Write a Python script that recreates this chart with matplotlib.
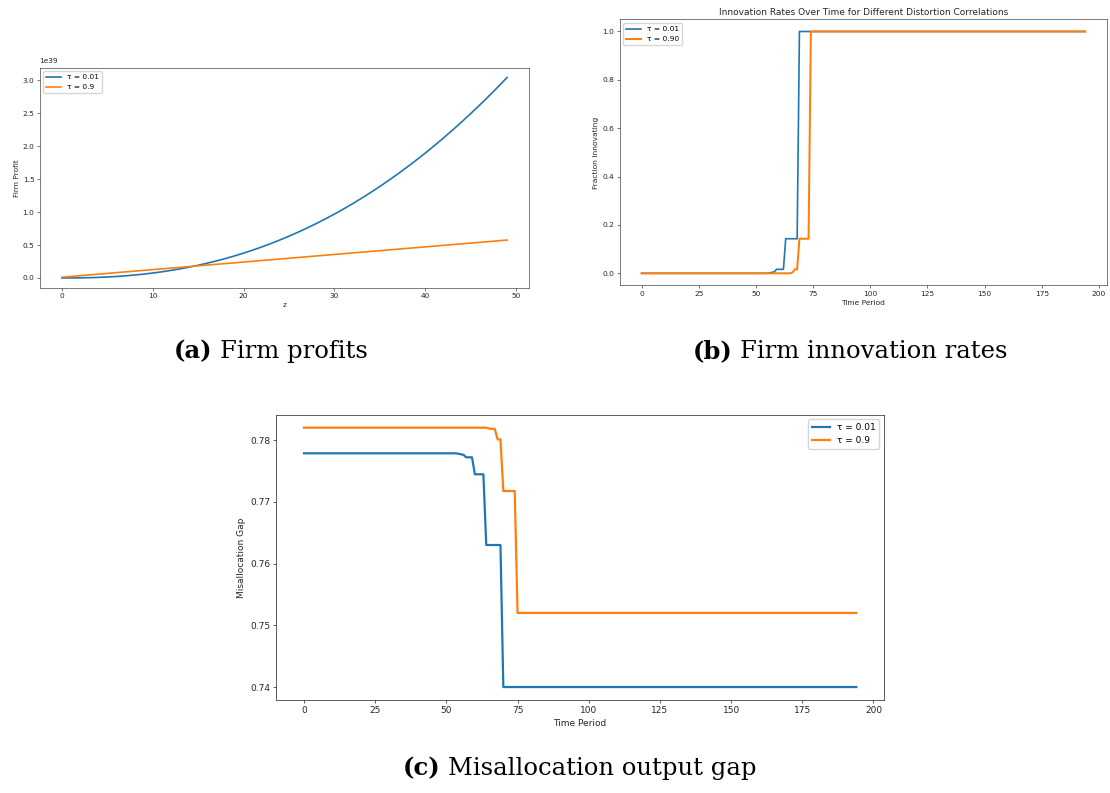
import matplotlib
matplotlib.use("Agg")
import matplotlib.pyplot as plt

W, H = 1110, 793

# ---------------- (a) firm profit against productivity z ----------------
z = list(range(50))
PROFIT_UNIT = 1e39
profit_tau_low = [0.0000, 0.0003, 0.0018, 0.0045, 0.0089, 0.0149, 0.0228, 0.0326, 0.0446, 0.0586,
                  0.0749, 0.0935, 0.1146, 0.1380, 0.1641, 0.1928, 0.2241, 0.2581, 0.2948, 0.3344,
                  0.3770, 0.4222, 0.4705, 0.5219, 0.5764, 0.6338, 0.6945, 0.7582, 0.8253, 0.8957,
                  0.9690, 1.0462, 1.1264, 1.2103, 1.2975, 1.3880, 1.4822, 1.5799, 1.6813, 1.7864,
                  1.8940, 2.0070, 2.1230, 2.2426, 2.3660, 2.4932, 2.6236, 2.7584, 2.8975, 3.0400]
profit_tau_high = [0.012, 0.023, 0.035, 0.046, 0.058, 0.069, 0.081, 0.092, 0.104, 0.115,
                   0.127, 0.138, 0.150, 0.161, 0.173, 0.184, 0.196, 0.207, 0.219, 0.230,
                   0.242, 0.253, 0.265, 0.276, 0.288, 0.299, 0.311, 0.322, 0.334, 0.345,
                   0.357, 0.368, 0.380, 0.391, 0.403, 0.414, 0.426, 0.437, 0.449, 0.460,
                   0.472, 0.483, 0.495, 0.506, 0.518, 0.529, 0.541, 0.552, 0.564, 0.575]
labels_a = ["τ = 0.01", "τ = 0.9"]

# ---------------- (b) fraction of firms innovating per period ----------------
periods = list(range(195))
innov_tau_low = ([0.0] * 56 + [0.002, 0.004, 0.006] + [0.0165] * 4
                 + [0.143] * 6 + [1.0] * 126)
innov_tau_high = ([0.0] * 66 + [0.004] + [0.0165] * 2
                  + [0.143] * 5 + [1.0] * 121)
labels_b = ["τ = 0.01", "τ = 0.90"]

# ---------------- (c) misallocation output gap per period ----------------
gap_tau_low = ([0.77785] * 54 + [0.7778, 0.7777, 0.7776] + [0.7772] * 3
               + [0.77445] * 4 + [0.7630] * 6 + [0.7400] * 125)
gap_tau_high = ([0.7820] * 65 + [0.78185, 0.7818, 0.7818] + [0.7801] * 2
                + [0.77174] * 5 + [0.7520] * 120)
labels_c = ["τ = 0.01", "τ = 0.9"]

captions = [("(a)", "Firm profits"), ("(b)", "Firm innovation rates"),
            ("(c)", "Misallocation output gap")]

BLUE, ORANGE = "#1f77b4", "#ff7f0e"

fig = plt.figure(figsize=(W / 100, H / 100), dpi=100)
fig.patch.set_facecolor("white")


def axes_px(left, top, right, bottom):
    return fig.add_axes([left / W, 1 - bottom / H, (right - left) / W, (bottom - top) / H])


def style(ax, s):
    fs = 10 * s
    ax.tick_params(labelsize=fs, length=3.5 * s, width=0.8 * s, pad=3.5 * s,
                   colors="#262626")
    for sp in ax.spines.values():
        sp.set_linewidth(0.8 * s)
        sp.set_color("#262626")
    ax.yaxis.get_offset_text().set_fontsize(fs)
    ax.yaxis.get_offset_text().set_color("#262626")
    return fs


# (a)
sa = 0.53
ax_a = axes_px(39.6, 67.5, 529.3, 288.0)
fs = style(ax_a, sa)
ax_a.plot(z, [v * PROFIT_UNIT for v in profit_tau_low], color=BLUE, lw=1.2, label=labels_a[0])
ax_a.plot(z, [v * PROFIT_UNIT for v in profit_tau_high], color=ORANGE, lw=1.2, label=labels_a[1])
ax_a.set_xlabel("z", fontsize=fs, labelpad=4 * sa, color="#262626")
ax_a.set_ylabel("Firm Profit", fontsize=fs, labelpad=4 * sa, color="#262626")
ax_a.legend(loc="upper left", fontsize=fs)

# (b)
sb = 0.54
ax_b = axes_px(619.5, 19.4, 1107.4, 285.4)
fs = style(ax_b, sb)
ax_b.plot(periods, innov_tau_low, color=BLUE, lw=1.2, label=labels_b[0])
ax_b.plot(periods, innov_tau_high, color=ORANGE, lw=1.45, label=labels_b[1])
ax_b.set_title("Innovation Rates Over Time for Different Distortion Correlations",
               fontsize=12 * sb, pad=6 * sb, color="#262626")
ax_b.set_xlabel("Time Period", fontsize=fs, labelpad=4 * sb, color="#262626")
ax_b.set_ylabel("Fraction Innovating", fontsize=fs, labelpad=4 * sb, color="#262626")
ax_b.set_xticks(range(0, 201, 25))
ax_b.legend(loc="upper left", fontsize=fs)

# (c)
sc = 0.65
ax_c = axes_px(276.4, 414.7, 884.0, 700.0)
fs = style(ax_c, sc)
ax_c.plot(periods, gap_tau_low, color=BLUE, lw=1.6, label=labels_c[0])
ax_c.plot(periods, gap_tau_high, color=ORANGE, lw=1.6, label=labels_c[1])
ax_c.set_xlabel("Time Period", fontsize=fs, labelpad=4 * sc, color="#262626")
ax_c.set_ylabel("Misallocation Gap", fontsize=fs, labelpad=4 * sc, color="#262626")
ax_c.set_xticks(range(0, 201, 25))
ax_c.legend(loc="upper right", fontsize=fs)

# sub-figure captions: bold tag followed by regular text
renderer = fig.canvas.get_renderer()
cap_kw = dict(family="DejaVu Serif", fontsize=17.5, color="black", va="baseline", ha="left")


def caption(cx, y_base, tag, rest):
    t1 = fig.text(0, 1 - y_base / H, tag, fontweight="bold", **cap_kw)
    t2 = fig.text(0, 1 - y_base / H, rest, **cap_kw)
    w1 = t1.get_window_extent(renderer).width
    w2 = t2.get_window_extent(renderer).width
    gap = 0.32 * cap_kw["fontsize"] * 100 / 72
    x0 = cx - (w1 + gap + w2) / 2
    t1.set_x(x0 / W)
    t2.set_x((x0 + w1 + gap) / W)


caption(271, 358, *captions[0])
caption(850, 358, *captions[1])
caption(580, 775, *captions[2])

fig.savefig("out.png", dpi=100, facecolor="white")
